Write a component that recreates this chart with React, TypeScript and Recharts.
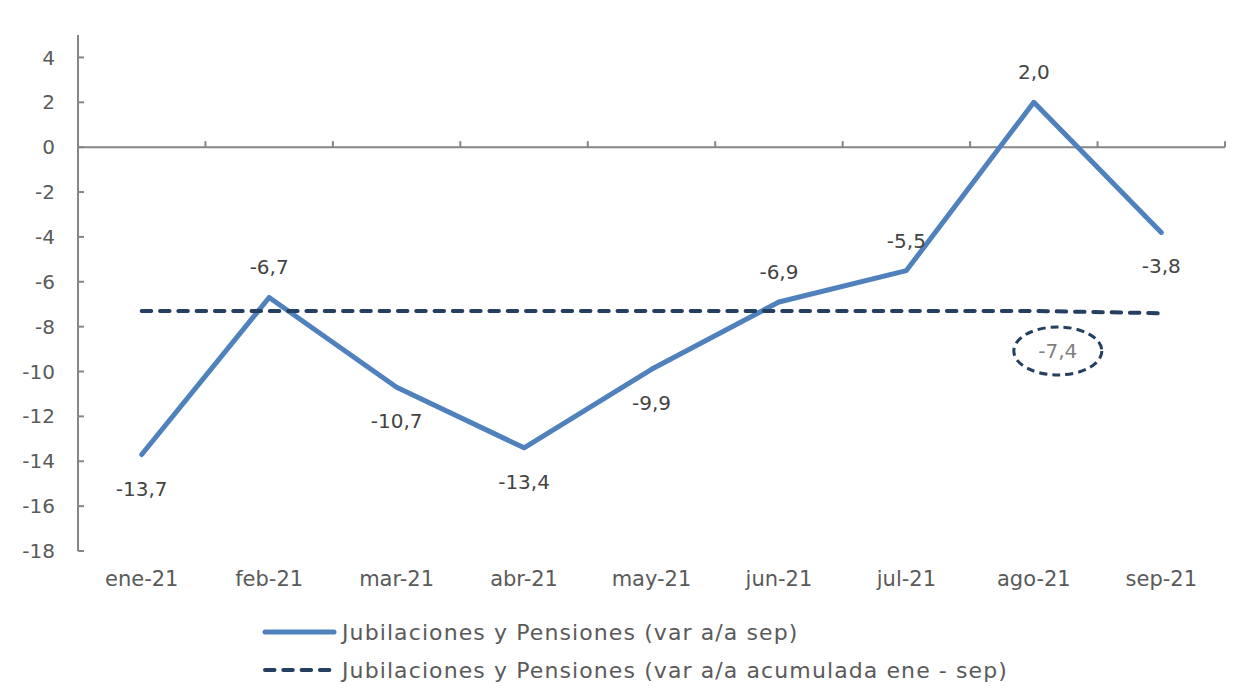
import React from "react";
import {
  LineChart,
  Line,
  XAxis,
  YAxis,
  ReferenceLine,
  LabelList,
  Legend,
} from "recharts";

const months = ["ene-21", "feb-21", "mar-21", "abr-21", "may-21", "jun-21", "jul-21", "ago-21", "sep-21"];
const monthly = [-13.7, -6.7, -10.7, -13.4, -9.9, -6.9, -5.5, 2.0, -3.8];
const accumulated = [-7.3, -7.3, -7.3, -7.3, -7.3, -7.3, -7.3, -7.3, -7.4];
const yTicks = [-18, -16, -14, -12, -10, -8, -6, -4, -2, 0, 2, 4];
// where each monthly label sits relative to its point
const labelSide = ["bottom", "top", "bottom", "bottom", "bottom", "top", "top", "top", "bottom"];

const MONTHLY_NAME = "Jubilaciones y Pensiones (var a/a sep)";
const ACCUM_NAME = "Jubilaciones y Pensiones (var a/a acumulada ene - sep)";

const BLUE = "#4f81bd";
const NAVY = "#243f60";
const AXIS = "#868686";
const TEXT = "#5a5a5a";
const FRAME = "#c8c8c8";
const FONT = "DejaVu Sans";

const data = months.map((m, i) => ({ month: m, monthly: monthly[i], accumulated: accumulated[i] }));

const fmt = (v: number) => v.toFixed(1).replace(".", ",");

// zero line with tick marks at the category boundaries
function ZeroAxis(props: any) {
  const { x1, x2, y1 } = props;
  if (x1 == null) return null;
  const n = months.length;
  const step = (x2 - x1) / n;
  return (
    <g>
      <line x1={x1} x2={x2} y1={y1} y2={y1} stroke={AXIS} strokeWidth={2} />
      {Array.from({ length: n + 1 }, (_, i) => (
        <line key={i} x1={x1 + i * step} x2={x1 + i * step} y1={y1} y2={y1 - 6} stroke={AXIS} strokeWidth={2} />
      ))}
    </g>
  );
}

function MonthlyLabel(props: any) {
  const { x, y, value, index } = props;
  const dy = labelSide[index] === "top" ? -30 : 34;
  return (
    <text x={x} y={y + dy} textAnchor="middle" dominantBaseline="central" fill="#444" fontSize={20} fontFamily={FONT}>
      {fmt(value)}
    </text>
  );
}

// only the last-but-one point carries the circled cumulative figure
function AccumLabel(props: any) {
  const { x, y, index } = props;
  if (index !== 7) return null;
  const cx = x + 24;
  const cy = y + 40;
  return (
    <g>
      <ellipse cx={cx} cy={cy} rx={44} ry={24} fill="none" stroke={NAVY} strokeWidth={3} strokeDasharray="8 5" />
      <text x={cx} y={cy} textAnchor="middle" dominantBaseline="central" fill="#7f7f7f" fontSize={20} fontFamily={FONT}>
        {fmt(accumulated[accumulated.length - 1])}
      </text>
    </g>
  );
}

function LegendContent() {
  const rows = [
    { name: MONTHLY_NAME, color: BLUE, dash: undefined as string | undefined },
    { name: ACCUM_NAME, color: NAVY, dash: "9.5 8.8" },
  ];
  return (
    <div style={{ fontFamily: FONT, fontSize: 22, color: TEXT, letterSpacing: 1.1 }}>
      {rows.map((r) => (
        <div key={r.name} style={{ display: "flex", alignItems: "center", height: 38, whiteSpace: "nowrap" }}>
          <svg width={76} height={10} style={{ marginRight: 4 }}>
            <line x1={3} x2={72} y1={5} y2={5} stroke={r.color} strokeWidth={r.dash ? 4 : 5} strokeLinecap="round" strokeDasharray={r.dash} />
          </svg>
          <span>{r.name}</span>
        </div>
      ))}
    </div>
  );
}

export default function App() {
  return (
    <div style={{ position: "relative", width: 1246, height: 700, margin: -8, overflow: "hidden", background: "#fff" }}>
      <div
        style={{
          position: "absolute",
          left: 5,
          top: 5,
          width: 1300,
          height: 800,
          boxShadow: `inset 2px 2px 0 0 ${FRAME}`,
          pointerEvents: "none",
        }}
      />
      <div style={{ position: "absolute", left: 0, top: 0 }}>
        <LineChart
          width={1246}
          height={700}
          data={data}
          margin={{ top: 35, right: 21, bottom: 119, left: 0 }}
        >
          <ReferenceLine y={0} shape={<ZeroAxis />} ifOverflow="visible" />
          <XAxis
            dataKey="month"
            scale="band"
            axisLine={false}
            tickLine={false}
            tickSize={6}
            tickMargin={14}
            height={30}
            interval={0}
            tick={{ fill: TEXT, fontSize: 21, fontFamily: FONT }}
          />
          <YAxis
            type="number"
            domain={[-18, 5]}
            ticks={yTicks}
            width={78}
            interval={0}
            axisLine={{ stroke: AXIS, strokeWidth: 2 }}
            tickLine={{ stroke: AXIS, strokeWidth: 2 }}
            tickSize={-6}
            tickMargin={29}
            tick={{ fill: TEXT, fontSize: 20, fontFamily: FONT }}
          />
          <Line
            type="linear"
            dataKey="monthly"
            name={MONTHLY_NAME}
            stroke={BLUE}
            strokeWidth={5}
            strokeLinecap="round"
            strokeLinejoin="round"
            dot={false}
            activeDot={false}
            isAnimationActive={false}
          >
            <LabelList dataKey="monthly" content={<MonthlyLabel />} />
          </Line>
          <Line
            type="linear"
            dataKey="accumulated"
            name={ACCUM_NAME}
            stroke={NAVY}
            strokeWidth={4}
            strokeLinecap="round"
            strokeDasharray="9.5 8.8"
            dot={false}
            activeDot={false}
            isAnimationActive={false}
          >
            <LabelList dataKey="accumulated" content={<AccumLabel />} />
          </Line>
          <Legend
            layout="vertical"
            align="center"
            verticalAlign="middle"
            content={<LegendContent />}
            wrapperStyle={{ top: 613, left: 262, width: 960, height: 80 }}
          />
        </LineChart>
      </div>
    </div>
  );
}
